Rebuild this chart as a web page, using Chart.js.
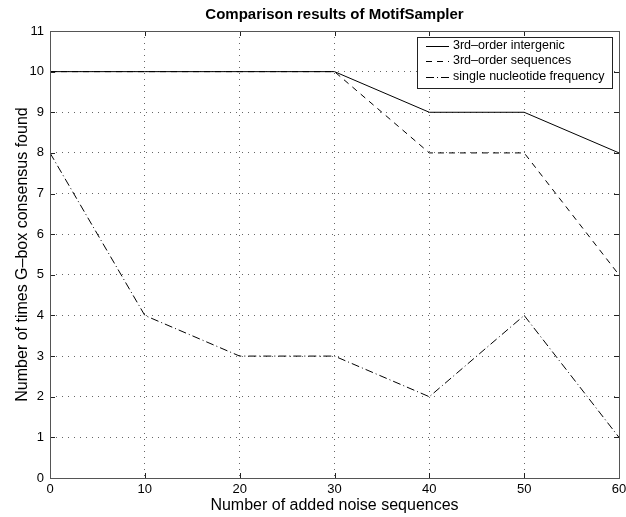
<!DOCTYPE html>
<html>
<head>
<meta charset="utf-8">
<script src="https://cdn.jsdelivr.net/npm/chart.js@4"></script>
<style>
  html, body { margin: 0; padding: 0; background: #fff; }
  #wrap { width: 626px; height: 517px; }
</style>
</head>
<body>
<div id="wrap"><canvas id="chart" width="626" height="517"></canvas></div>
<script>
const noiseCounts = [0, 10, 20, 30, 40, 50, 60];
const intergenic = [10, 10, 10, 10, 9, 9, 8];
const sequences = [10, 10, 10, 10, 8, 8, 5];
const singleNucleotide = [8, 4, 3, 3, 2, 4, 1];
const seriesNames = ['3rd\u2013order intergenic', '3rd\u2013order sequences', 'single nucleotide frequency'];

const FONT = 'Liberation Sans, Arial, Helvetica, sans-serif';

function toPoints(values){
    return values.map((v, i) => ({ x: noiseCounts[i], y: v }));
}

// frame, inward ticks and legend box like the MATLAB figure
const matlabPlugin = {
    id: 'matlabFrame',
    afterDatasetsDraw(chart){
        const ctx = chart.ctx;
        const a = chart.chartArea;
        const xs = chart.scales.x;
        const ys = chart.scales.y;
        ctx.save();
        ctx.strokeStyle = '#222';
        ctx.lineWidth = 1;
        ctx.setLineDash([]);
        ctx.beginPath();
        xs.ticks.forEach(t => {
            const px = Math.round(xs.getPixelForValue(t.value)) + 0.5;
            ctx.moveTo(px, a.bottom); ctx.lineTo(px, a.bottom - 5);
            ctx.moveTo(px, a.top); ctx.lineTo(px, a.top + 5);
        });
        ys.ticks.forEach(t => {
            const py = Math.round(ys.getPixelForValue(t.value)) + 0.5;
            ctx.moveTo(a.left, py); ctx.lineTo(a.left + 5, py);
            ctx.moveTo(a.right, py); ctx.lineTo(a.right - 5, py);
        });
        ctx.stroke();
        ctx.strokeStyle = '#555';
        ctx.strokeRect(Math.round(a.left) + 0.5, Math.round(a.top) + 0.5,
            Math.round(a.right - a.left), Math.round(a.bottom - a.top));

        // legend
        const lx = 417, ly = 37, lw = 195, lh = 51;
        ctx.fillStyle = '#fff';
        ctx.fillRect(lx, ly, lw, lh);
        ctx.strokeStyle = '#222';
        ctx.strokeRect(lx + 0.5, ly + 0.5, lw, lh);
        ctx.font = '12.5px ' + FONT;
        ctx.textBaseline = 'middle';
        ctx.textAlign = 'left';
        chart.data.datasets.forEach((ds, i) => {
            const y = ly + 8.5 + i * 15.5;
            ctx.beginPath();
            ctx.setLineDash(ds.borderDash || []);
            ctx.strokeStyle = '#000';
            ctx.moveTo(lx + 9, Math.round(y) + 0.5);
            ctx.lineTo(lx + 32, Math.round(y) + 0.5);
            ctx.stroke();
            ctx.fillStyle = '#000';
            ctx.fillText(ds.label, lx + 36, y);
        });
        ctx.restore();
    }
};

new Chart(document.getElementById('chart'), {
    type: 'line',
    data: {
        datasets: [
            { label: seriesNames[0], data: toPoints(intergenic), borderDash: [] },
            { label: seriesNames[1], data: toPoints(sequences), borderDash: [6, 5] },
            { label: seriesNames[2], data: toPoints(singleNucleotide), borderDash: [8, 3, 1, 3] }
        ].map(d => Object.assign(d, {
            borderColor: '#000',
            borderWidth: 1,
            pointRadius: 0,
            tension: 0,
            fill: false
        }))
    },
    plugins: [matlabPlugin],
    options: {
        responsive: false,
        animation: false,
        layout: { padding: { right: 7 } },
        plugins: {
            legend: { display: false },
            tooltip: { enabled: false },
            title: {
                display: true,
                text: 'Comparison results of MotifSampler',
                fullSize: false,
                color: '#000',
                font: { family: FONT, size: 15, weight: 'bold' },
                padding: { top: 6, bottom: 7 }
            }
        },
        scales: {
            x: {
                type: 'linear',
                min: 0,
                max: 60,
                afterFit(scale){
                    scale.height = 39;
                    scale.paddingRight = 0;
                },
                ticks: { stepSize: 10, color: '#000', padding: 4, maxRotation: 0, font: { family: FONT, size: 13 } },
                grid: { color: '#666', drawTicks: false },
                border: { display: false, dash: [1, 5] },
                title: {
                    display: true,
                    text: 'Number of added noise sequences',
                    color: '#000',
                    font: { family: FONT, size: 16 },
                    padding: { top: 0, bottom: 2 }
                }
            },
            y: {
                min: 0,
                max: 11,
                afterFit(scale){ scale.width = 50; },
                ticks: { stepSize: 1, color: '#000', padding: 6, font: { family: FONT, size: 13 } },
                grid: { color: '#666', drawTicks: false },
                border: { display: false, dash: [1, 5] },
                title: {
                    display: true,
                    text: 'Number of times G\u2013box consensus found',
                    color: '#000',
                    font: { family: FONT, size: 16 },
                    padding: { top: 13, bottom: 13 }
                }
            }
        }
    }
});
</script>
</body>
</html>
